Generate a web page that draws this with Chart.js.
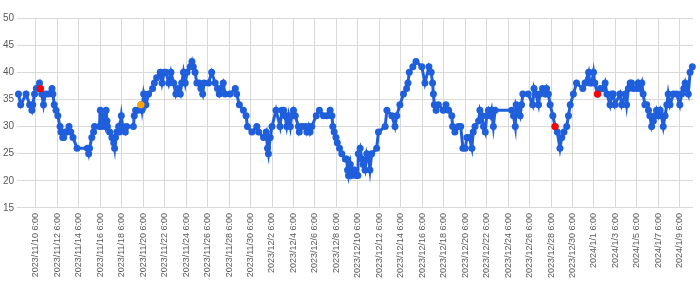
<!DOCTYPE html>
<html>
<head>
<meta charset="utf-8">
<script src="https://cdn.jsdelivr.net/npm/chart.js@4.4.1/dist/chart.umd.min.js"></script>
<style>
  html, body { margin: 0; padding: 0; background: #ffffff; }
  #wrap { width: 700px; height: 283px; position: relative; }
</style>
</head>
<body>
<div id="wrap"><canvas id="c"></canvas></div>
<script>
// ---- data ----
const times = [
"2023/11/8 15:00","2023/11/8 20:00","2023/11/9 8:00","2023/11/9 16:00","2023/11/9 21:00","2023/11/9 23:00",
"2023/11/10 3:00","2023/11/10 7:00","2023/11/10 14:00","2023/11/10 16:00","2023/11/10 19:00","2023/11/10 23:00",
"2023/11/11 3:00","2023/11/11 10:00","2023/11/11 18:00","2023/11/11 20:00","2023/11/11 23:00",
"2023/11/12 3:00","2023/11/12 7:00","2023/11/12 12:00","2023/11/12 14:00","2023/11/12 18:00","2023/11/12 20:00",
"2023/11/13 0:00","2023/11/13 3:00","2023/11/13 8:00","2023/11/13 12:00","2023/11/13 17:00",
"2023/11/14 2:00","2023/11/15 1:00","2023/11/15 4:00","2023/11/15 6:00","2023/11/15 11:00","2023/11/15 15:00","2023/11/15 17:00",
"2023/11/16 4:00","2023/11/16 6:00","2023/11/16 8:00","2023/11/16 10:00","2023/11/16 13:00","2023/11/16 17:00","2023/11/16 19:00","2023/11/16 21:00","2023/11/16 22:00",
"2023/11/17 3:00","2023/11/17 8:00","2023/11/17 12:00","2023/11/17 14:00","2023/11/17 16:00","2023/11/17 19:00","2023/11/17 23:00",
"2023/11/18 1:00","2023/11/18 2:00","2023/11/18 5:00","2023/11/18 8:00","2023/11/18 14:00","2023/11/18 17:00",
"2023/11/19 8:00","2023/11/19 10:00","2023/11/19 13:00","2023/11/19 18:00",
"2023/11/20 1:00","2023/11/20 3:00","2023/11/20 7:00","2023/11/20 12:00","2023/11/20 18:00",
"2023/11/21 3:00","2023/11/21 7:00","2023/11/21 12:00","2023/11/21 20:00",
"2023/11/22 0:00","2023/11/22 5:00","2023/11/22 9:00","2023/11/22 15:00","2023/11/22 20:00",
"2023/11/23 2:00","2023/11/23 7:00","2023/11/23 11:00","2023/11/23 17:00","2023/11/23 20:00",
"2023/11/24 0:00","2023/11/24 4:00","2023/11/24 8:00","2023/11/24 15:00","2023/11/24 19:00","2023/11/24 22:00",
"2023/11/25 2:00","2023/11/25 6:00","2023/11/25 11:00","2023/11/25 15:00","2023/11/25 19:00","2023/11/25 22:00",
"2023/11/26 8:00","2023/11/26 15:00","2023/11/26 23:00",
"2023/11/27 4:00","2023/11/27 8:00","2023/11/27 12:00","2023/11/27 17:00","2023/11/27 21:00",
"2023/11/28 8:00","2023/11/28 20:00","2023/11/28 23:00",
"2023/11/29 5:00","2023/11/29 14:00","2023/11/29 20:00","2023/11/29 23:00",
"2023/11/30 9:00","2023/11/30 20:00",
"2023/12/1 0:00","2023/12/1 11:00","2023/12/1 17:00","2023/12/1 20:00","2023/12/1 22:00",
"2023/12/2 2:00","2023/12/2 6:00","2023/12/2 15:00",
"2023/12/3 0:00","2023/12/3 4:00","2023/12/3 8:00","2023/12/3 11:00","2023/12/3 15:00","2023/12/3 19:00","2023/12/3 23:00",
"2023/12/4 2:00","2023/12/4 6:00","2023/12/4 10:00","2023/12/4 17:00","2023/12/4 19:00",
"2023/12/5 1:00","2023/12/5 8:00","2023/12/5 12:00","2023/12/5 16:00","2023/12/5 19:00","2023/12/5 23:00",
"2023/12/6 9:00","2023/12/6 16:00",
"2023/12/7 1:00","2023/12/7 9:00","2023/12/7 16:00","2023/12/7 20:00","2023/12/7 22:00",
"2023/12/8 1:00","2023/12/8 5:00","2023/12/8 8:00","2023/12/8 13:00","2023/12/8 18:00",
"2023/12/9 2:00","2023/12/9 5:00","2023/12/9 7:00","2023/12/9 9:00","2023/12/9 13:00","2023/12/9 16:00","2023/12/9 22:00",
"2023/12/10 2:00","2023/12/10 6:00","2023/12/10 7:00","2023/12/10 11:00","2023/12/10 15:00","2023/12/10 18:00","2023/12/10 22:00",
"2023/12/11 2:00","2023/12/11 6:00","2023/12/11 9:00","2023/12/11 13:00",
"2023/12/12 0:00","2023/12/12 4:00","2023/12/12 19:00","2023/12/12 23:00",
"2023/12/13 10:00","2023/12/13 17:00","2023/12/13 21:00",
"2023/12/14 4:00","2023/12/14 12:00","2023/12/14 19:00","2023/12/14 22:00",
"2023/12/15 1:00","2023/12/15 9:00","2023/12/15 16:00",
"2023/12/16 5:00","2023/12/16 12:00","2023/12/16 21:00",
"2023/12/17 2:00","2023/12/17 5:00","2023/12/17 7:00","2023/12/17 9:00","2023/12/17 13:00","2023/12/17 18:00",
"2023/12/18 5:00","2023/12/18 11:00","2023/12/18 17:00",
"2023/12/19 0:00","2023/12/19 2:00","2023/12/19 7:00","2023/12/19 15:00","2023/12/19 20:00",
"2023/12/20 1:00","2023/12/20 6:00","2023/12/20 10:00","2023/12/20 15:00","2023/12/20 21:00",
"2023/12/21 0:00","2023/12/21 4:00","2023/12/21 12:00","2023/12/21 15:00","2023/12/21 19:00","2023/12/21 23:00",
"2023/12/22 3:00","2023/12/22 6:00","2023/12/22 10:00","2023/12/22 14:00","2023/12/22 17:00","2023/12/22 21:00",
"2023/12/23 1:00","2023/12/24 14:00","2023/12/24 18:00","2023/12/24 22:00",
"2023/12/25 0:00","2023/12/25 5:00","2023/12/25 9:00","2023/12/25 12:00","2023/12/25 15:00",
"2023/12/26 3:00","2023/12/26 13:00","2023/12/26 16:00","2023/12/26 20:00",
"2023/12/27 2:00","2023/12/27 5:00","2023/12/27 11:00","2023/12/27 17:00","2023/12/27 20:00",
"2023/12/28 0:00","2023/12/28 4:00","2023/12/28 10:00","2023/12/28 15:00","2023/12/28 20:00",
"2023/12/29 2:00","2023/12/29 6:00","2023/12/29 11:00","2023/12/29 17:00","2023/12/29 21:00",
"2023/12/30 1:00","2023/12/30 8:00","2023/12/30 15:00",
"2023/12/31 5:00","2023/12/31 10:00","2023/12/31 18:00","2023/12/31 21:00",
"2024/1/1 1:00","2024/1/1 5:00","2024/1/1 8:00","2024/1/1 14:00","2024/1/1 20:00",
"2024/1/2 3:00","2024/1/2 7:00","2024/1/2 11:00","2024/1/2 18:00","2024/1/2 22:00",
"2024/1/3 1:00","2024/1/3 5:00","2024/1/3 16:00","2024/1/3 20:00",
"2024/1/4 4:00","2024/1/4 7:00","2024/1/4 11:00","2024/1/4 15:00","2024/1/4 18:00","2024/1/4 22:00",
"2024/1/5 6:00","2024/1/5 9:00","2024/1/5 13:00","2024/1/5 17:00","2024/1/5 20:00",
"2024/1/6 0:00","2024/1/6 4:00","2024/1/6 8:00","2024/1/6 11:00","2024/1/6 15:00","2024/1/6 19:00","2024/1/6 23:00",
"2024/1/7 2:00","2024/1/7 6:00","2024/1/7 10:00","2024/1/7 13:00","2024/1/7 17:00","2024/1/7 21:00",
"2024/1/8 1:00","2024/1/8 4:00","2024/1/8 8:00","2024/1/8 16:00","2024/1/8 23:00",
"2024/1/9 6:00","2024/1/9 10:00","2024/1/9 15:00","2024/1/9 18:00","2024/1/9 21:00",
"2024/1/10 1:00","2024/1/10 5:00","2024/1/10 10:00"
];

const values = [
36,34,36,34,33,34,
36,37,38,37,36,34,
36,36,37,36,34,
33,32,30,29,28,28,
29,29,30,29,28,
26,26,25,26,28,29,30,
30,33,30,32,31,30,33,31,30,
29,28,27,26,28,29,30,
29,30,32,30,29,30,
30,32,33,33,
34,33,36,34,36,
37,38,39,40,
38,40,40,38,40,
38,36,37,36,38,
40,38,40,41,42,41,
40,38,38,37,36,38,
38,40,38,
37,36,37,38,36,
36,37,36,
34,33,32,30,
29,30,
29,28,29,26,25,
28,30,33,
30,33,33,32,30,32,30,
32,33,32,30,29,
30,30,29,30,29,30,
32,33,
32,32,33,32,30,
29,28,27,26,25,
24,24,22,21,23,21,22,
21,21,25,26,24,23,22,
25,24,22,25,
26,29,30,33,
32,30,32,
34,36,37,38,
40,41,42,
41,38,41,
40,38,36,34,33,34,
33,34,33,
32,30,29,30,30,
26,26,28,28,26,
29,30,31,33,32,30,
29,32,33,32,33,30,
33,33,32,30,
34,33,32,34,36,
36,34,37,36,
34,36,37,36,37,
36,34,32,30,29,
26,28,29,30,32,
34,36,38,
37,38,40,38,
38,40,38,36,37,
37,38,36,34,36,
36,34,36,34,
36,34,37,38,38,37,
37,38,37,38,36,
34,34,33,32,30,31,32,
33,32,33,32,30,32,
34,36,34,36,36,
34,36,37,38,37,
36,40,41
];

// marked readings (drawn in other colours on top of the series)
const redTimes = ["2023/11/10 16:00", "2023/12/28 15:00", "2024/1/1 14:00"];
const orangeTimes = ["2023/11/20 1:00"];

// category tick labels shown on the x axis
const tickLabels = [
"2023/11/10 6:00","2023/11/12 6:00","2023/11/14 6:00","2023/11/16 6:00","2023/11/18 6:00",
"2023/11/20 6:00","2023/11/22 6:00","2023/11/24 6:00","2023/11/26 6:00","2023/11/28 6:00",
"2023/11/30 6:00","2023/12/2 6:00","2023/12/4 6:00","2023/12/6 6:00","2023/12/8 6:00",
"2023/12/10 6:00","2023/12/12 6:00","2023/12/14 6:00","2023/12/16 6:00","2023/12/18 6:00",
"2023/12/20 6:00","2023/12/22 6:00","2023/12/24 6:00","2023/12/26 6:00","2023/12/28 6:00",
"2023/12/30 6:00","2024/1/1 6:00","2024/1/3 6:00","2024/1/5 6:00","2024/1/7 6:00","2024/1/9 6:00"
];
const yTicks = [15, 20, 25, 30, 35, 40, 45, 50];

// ---- helpers ----
function parseT(s) {
  const [d, t] = s.split(' ');
  const [Y, M, D] = d.split('/').map(Number);
  const [h, mi] = t.split(':').map(Number);
  return Date.UTC(Y, M - 1, D, h, mi);
}
const HOUR = 3600 * 1000;
const series = times.map((t, i) => ({ x: parseT(t), y: values[i] }));
const pick = list => list.map(t => series[times.indexOf(t)]);

const BLUE = '#1f5fdc';
const FONT = "'Liberation Sans', Arial, sans-serif";

new Chart(document.getElementById('c'), {
  type: 'line',
  data: {
    datasets: [
      { data: pick(redTimes), showLine: false, pointRadius: 3.6, pointBackgroundColor: '#ff0000', pointBorderColor: '#ff0000', pointBorderWidth: 0, clip: false },
      { data: pick(orangeTimes), showLine: false, pointRadius: 3.6, pointBackgroundColor: '#ffa500', pointBorderColor: '#ffa500', pointBorderWidth: 0, clip: false },
      { data: series, borderColor: BLUE, borderWidth: 3, tension: 0, pointRadius: 3.5, pointBackgroundColor: BLUE, pointBorderColor: BLUE, pointBorderWidth: 0, clip: false }
    ]
  },
  options: {
    responsive: true,
    maintainAspectRatio: false,
    animation: false,
    events: [],
    layout: { padding: { left: 0, right: 7, top: 18, bottom: 0 } },
    plugins: { legend: { display: false }, tooltip: { enabled: false } },
    scales: {
      x: {
        type: 'linear',
        min: parseT(times[0]) - 3 * HOUR,
        max: parseT(times[times.length - 1]) + 1.5 * HOUR,
        afterBuildTicks: axis => { axis.ticks = tickLabels.map(l => ({ value: parseT(l) })); },
        grid: { color: '#d9d9d9', lineWidth: 1, drawTicks: false },
        border: { display: false },
        ticks: {
          autoSkip: false, minRotation: 90, maxRotation: 90, padding: 5,
          color: '#595959', font: { family: FONT, size: 9 },
          callback: (v, i) => tickLabels[i]
        }
      },
      y: {
        min: 15, max: 50,
        afterBuildTicks: axis => { axis.ticks = yTicks.map(v => ({ value: v })); },
        grid: { color: '#d9d9d9', lineWidth: 1, drawTicks: false },
        border: { display: false },
        ticks: { padding: 3, color: '#595959', font: { family: FONT, size: 10 } }
      }
    }
  }
});
</script>
</body>
</html>
